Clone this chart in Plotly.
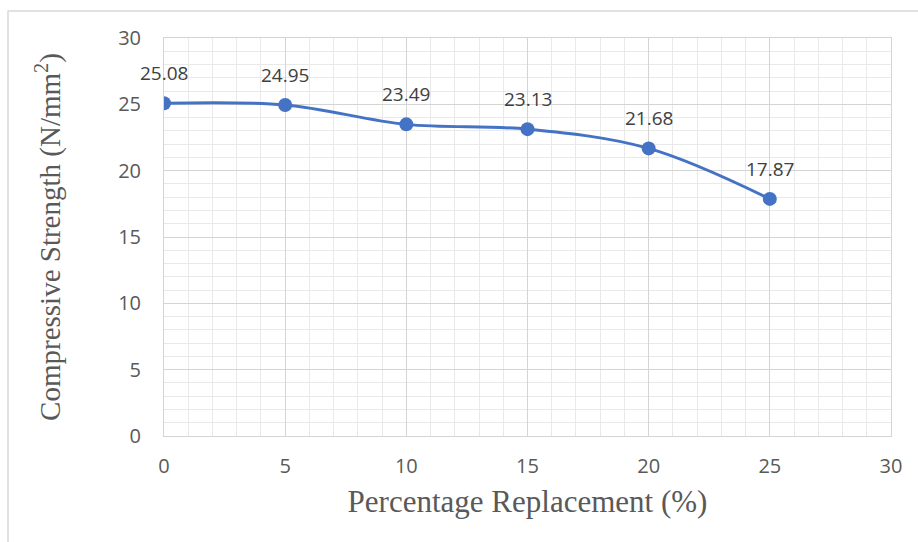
import plotly.graph_objects as go

# Compressive strength vs. percentage replacement
replacement = [0, 5, 10, 15, 20, 25]
strength = [25.08, 24.95, 23.49, 23.13, 21.68, 17.87]
x_ticks = [0, 5, 10, 15, 20, 25, 30]
y_ticks = [0, 5, 10, 15, 20, 25, 30]

BLUE = "#4472C4"
TEXT = "#595959"
MAJOR = "#d4d4d4"
MINOR = "#e9e9e9"

W, H = 918, 542
L, R, T, B = 164, 27, 38, 106

fig = go.Figure()
fig.add_trace(go.Scatter(
    x=replacement, y=strength,
    mode="lines+markers",
    line=dict(color=BLUE, width=3, shape="spline", smoothing=1),
    marker=dict(color=BLUE, size=14),
    showlegend=False,
    hoverinfo="x+y",
))

# Value labels above each point
for xv, yv in zip(replacement, strength):
    fig.add_annotation(
        x=xv, y=yv, text=f"{yv:.2f}", showarrow=False,
        yshift=30, font=dict(family="Open Sans", size=19, color="#404040"),
    )

# Chart-area outline
pw, ph = W - L - R, H - T - B
fig.add_shape(
    type="rect", xref="paper", yref="paper", layer="below",
    x0=(8 - L) / pw, x1=(W + 20 - L) / pw,
    y0=-(H + 20 - (H - B)) / ph, y1=1 + (T - 11) / ph,
    line=dict(color="#d9d9d9", width=1.5), fillcolor="rgba(0,0,0,0)",
)

axis_common = dict(
    showgrid=True, gridcolor=MAJOR, gridwidth=1,
    showline=True, linecolor=MAJOR, linewidth=1, mirror=True,
    zeroline=False, ticks="",
    tickfont=dict(family="Open Sans", size=20, color=TEXT),
    minor=dict(dtick=1, showgrid=True, gridcolor=MINOR, gridwidth=1),
)

fig.update_layout(
    width=W, height=H,
    margin=dict(l=L, r=R, t=T, b=B),
    paper_bgcolor="white", plot_bgcolor="white",
    xaxis=dict(
        range=[0, 30], tickvals=x_ticks, ticktext=[str(v) for v in x_ticks],
        ticklabelstandoff=12,
        title=dict(text="Percentage Replacement (%)", standoff=12,
                   font=dict(family="Liberation Serif", size=31, color=TEXT)),
        **axis_common,
    ),
    yaxis=dict(
        range=[0, 30], tickvals=y_ticks, ticktext=[str(v) for v in y_ticks],
        ticklabelstandoff=18,
        title=dict(text="Compressive Strength (N/mm<sup>2</sup>)", standoff=48,
                   font=dict(family="Liberation Serif", size=29, color=TEXT)),
        **axis_common,
    ),
)

fig.write_html("out.html")
